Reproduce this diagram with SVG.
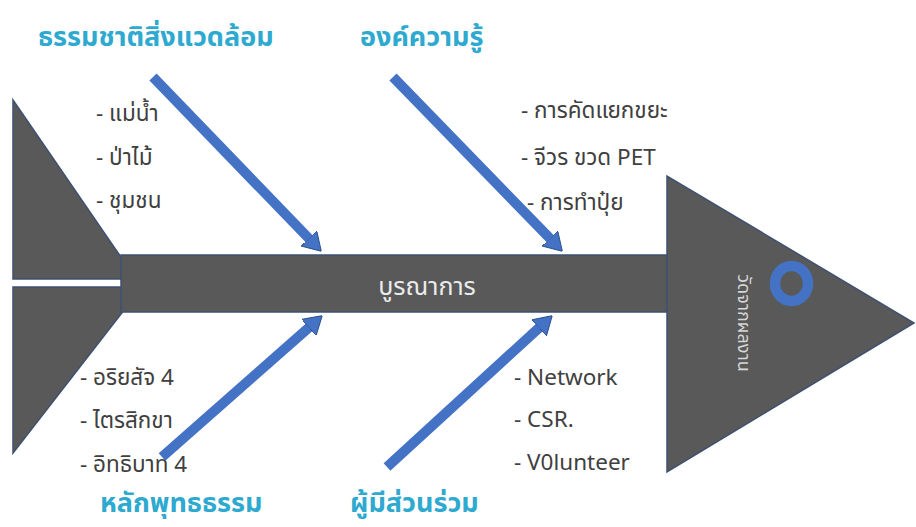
<svg xmlns="http://www.w3.org/2000/svg" width="916" height="527" viewBox="0 0 916 527">
<style>
.body{fill:#595959;stroke:#3f5170;stroke-width:1.5}
.cat{font-family:"Noto Sans Thai","Noto Sans","Liberation Sans",sans-serif;font-size:27px;font-weight:bold;fill:#2ea9d0}
.item{font-family:"Noto Sans Thai","Noto Sans","Liberation Sans",sans-serif;font-size:22.5px;fill:#404040}
.bone{stroke:#4472c4;stroke-width:10;fill:none}
.spinetxt{font-family:"Noto Sans Thai","Noto Sans","Liberation Sans",sans-serif;font-size:25px;fill:#ececec}
</style>
<defs>
<marker id="ah" viewBox="0 -11 18 22" refX="1" refY="0" markerWidth="18" markerHeight="22" markerUnits="userSpaceOnUse" orient="auto">
<path d="M0,-11 L18,0 L0,11 z" fill="#4472c4" stroke="#2f528f" stroke-width="1"/>
</marker>
</defs>
<rect width="916" height="527" fill="#ffffff"/>
<g id="tail">
<polygon class="body" points="13,100 136,279 13,279"/>
<polygon class="body" points="13,287 142,287 13,453"/>
</g>
<g id="spine">
<rect class="body" x="121" y="255" width="546" height="57"/>
<text class="spinetxt" x="427" y="295" text-anchor="middle">บูรณาการ</text>
</g>
<g id="head">
<polygon class="body" points="667,176 667,472 914,323"/>
<ellipse cx="791.5" cy="283.5" rx="16.5" ry="17.5" fill="none" stroke="#4472c4" stroke-width="10.5"/>
<text x="743" y="323" transform="rotate(90 743 323)" text-anchor="middle" dominant-baseline="central" font-family="Noto Sans Thai, Noto Sans, sans-serif" font-size="18" fill="#d6d6d6">วัดจากผลงาน</text>
</g>
<g id="cat-nature">
<text class="cat" x="38" y="46">ธรรมชาติสิ่งแวดล้อม</text>
<text class="item" x="96" y="121">- แม่น้ำ</text>
<text class="item" x="96" y="165">- ป่าไม้</text>
<text class="item" x="96" y="208">- ชุมชน</text>
</g>
<g id="cat-knowledge">
<text class="cat" x="360" y="46">องค์ความรู้</text>
<text class="item" x="521" y="118">- การคัดแยกขยะ</text>
<text class="item" x="521" y="165">- จีวร ขวด PET</text>
<text class="item" x="527" y="210">- การทำปุ๋ย</text>
</g>
<g id="cat-dharma">
<text class="cat" x="100" y="512">หลักพุทธธรรม</text>
<text class="item" x="80" y="385">- อริยสัจ 4</text>
<text class="item" x="80" y="428">- ไตรสิกขา</text>
<text class="item" x="80" y="472">- อิทธิบาท 4</text>
</g>
<g id="cat-participants">
<text class="cat" x="350" y="512">ผู้มีส่วนร่วม</text>
<text class="item" x="514" y="385">- Network</text>
<text class="item" x="514" y="427">- CSR.</text>
<text class="item" x="514" y="470">- V0lunteer</text>
</g>
<g id="connectors">
<line class="bone" x1="153" y1="77" x2="309.5" y2="239.1" marker-end="url(#ah)"/>
<line class="bone" x1="393" y1="77" x2="550.5" y2="239.1" marker-end="url(#ah)"/>
<line class="bone" x1="162" y1="457" x2="309.5" y2="326.9" marker-end="url(#ah)"/>
<line class="bone" x1="387" y1="467" x2="539.7" y2="327.2" marker-end="url(#ah)"/>
</g>
</svg>
